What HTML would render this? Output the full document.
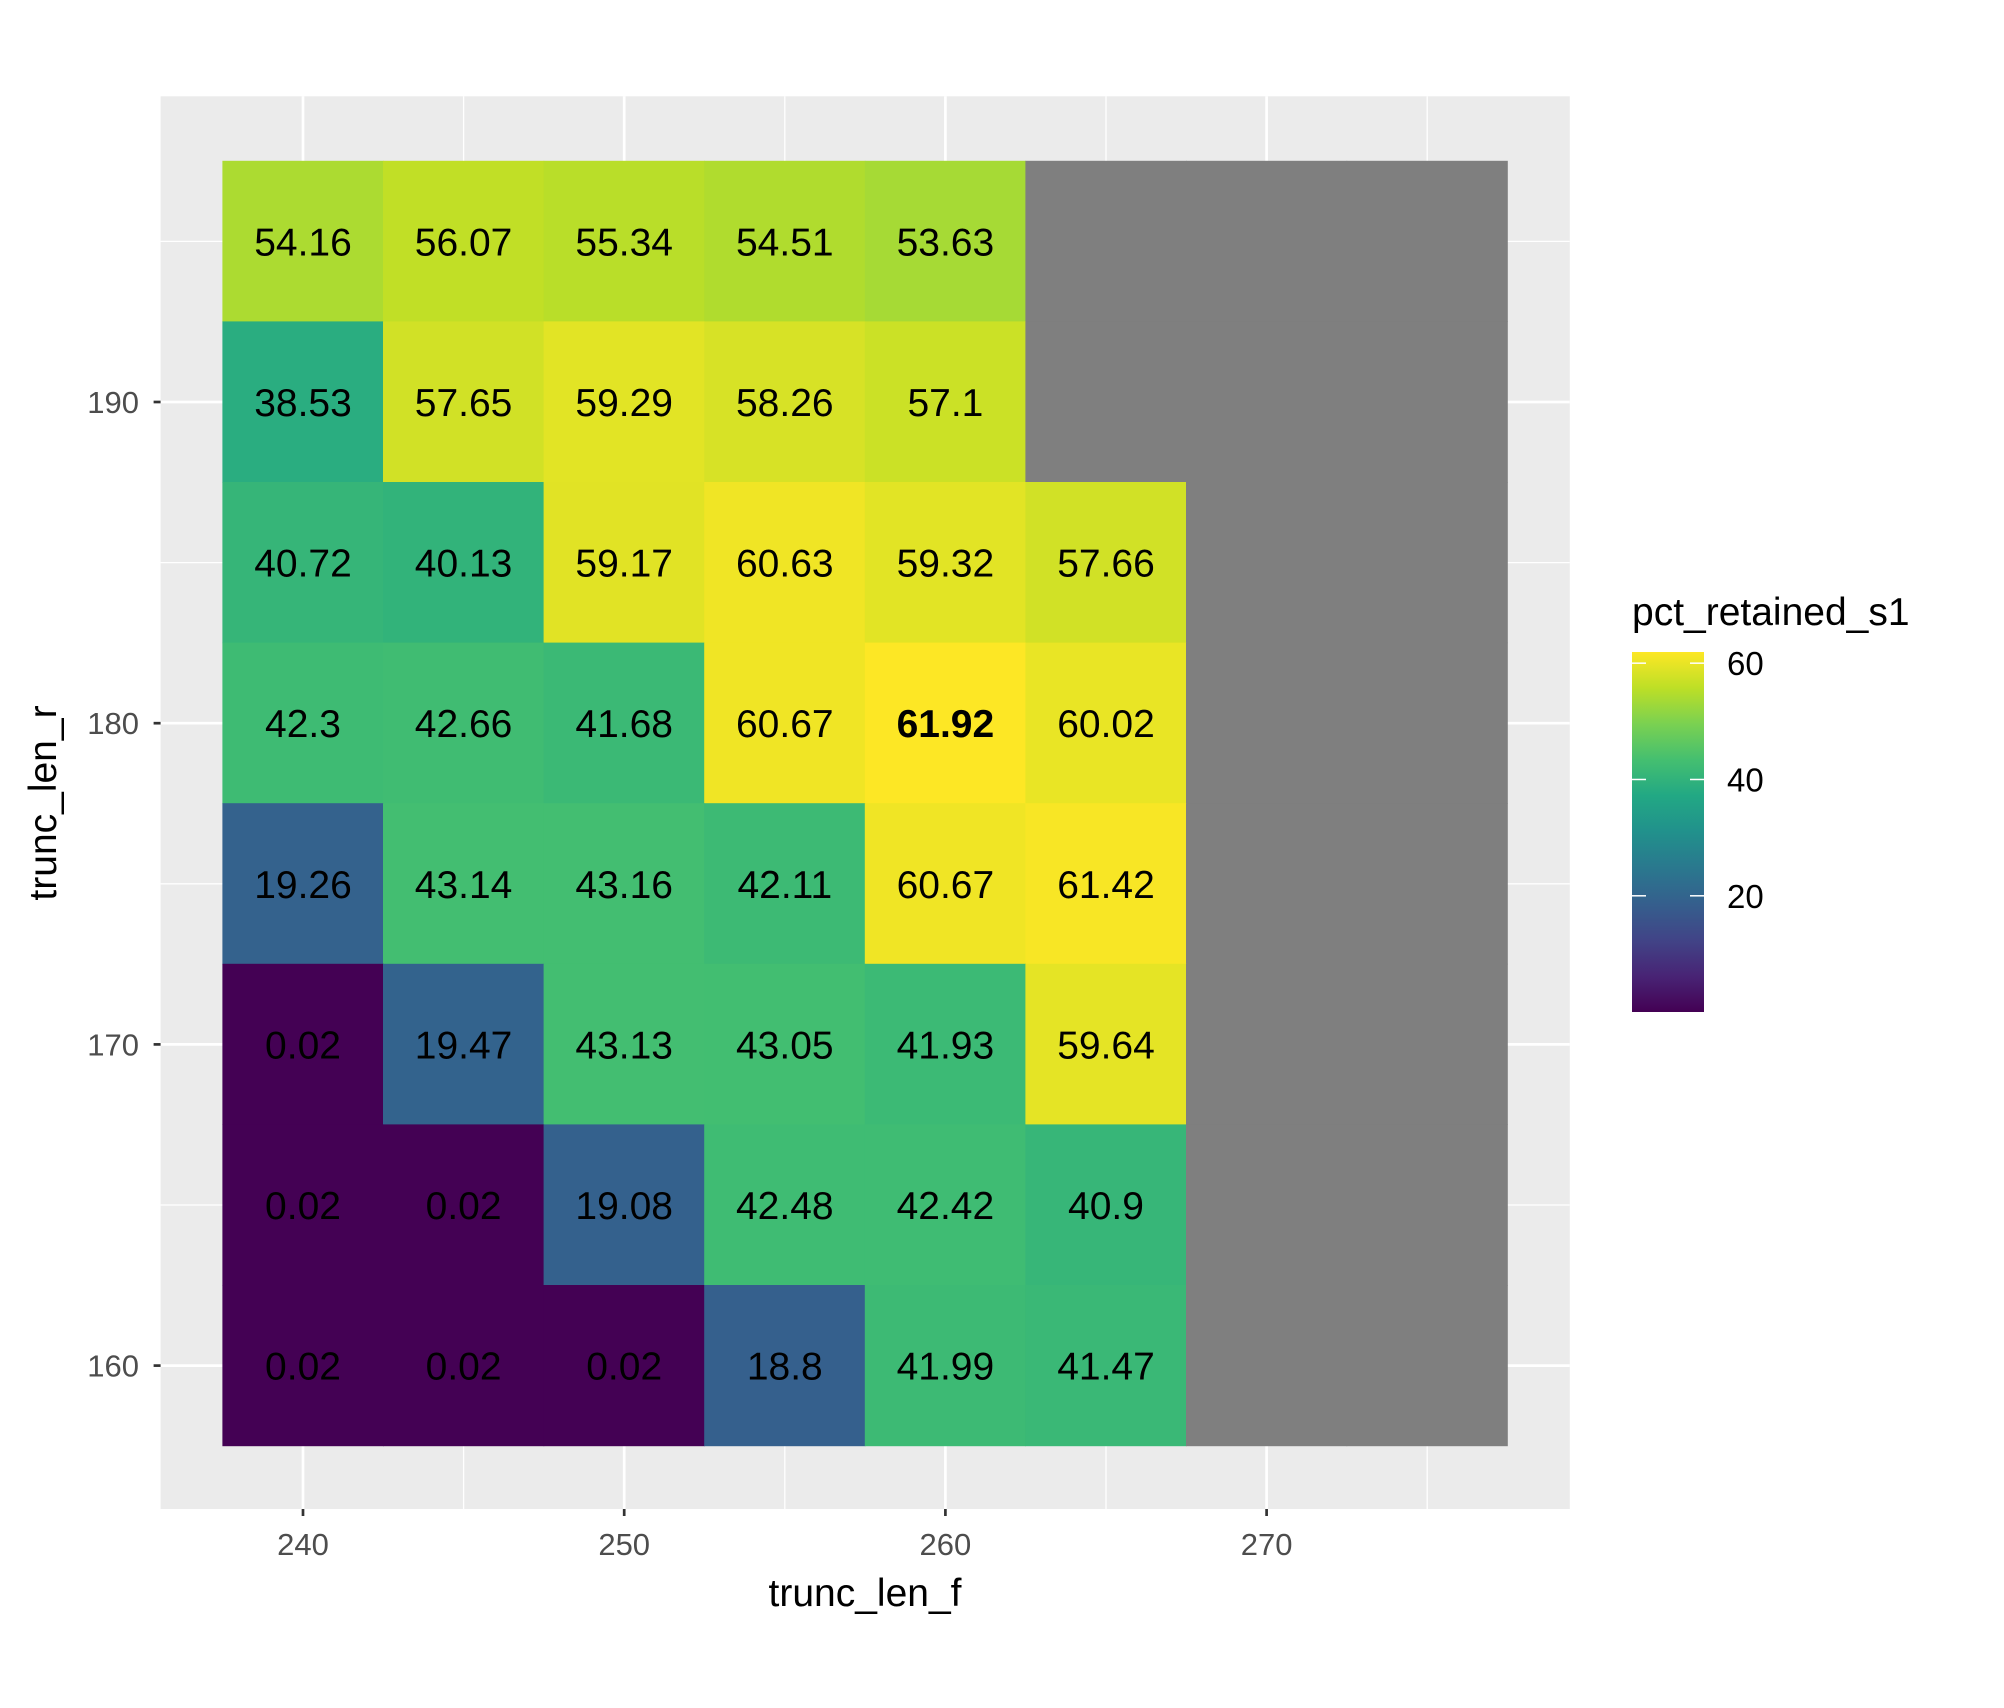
<!DOCTYPE html>
<html><head><meta charset="utf-8"><style>body{margin:0;background:#fff}svg{display:block;font-family:"Liberation Sans",sans-serif}</style></head>
<body>
<svg id="chart" width="2004" height="1708" viewBox="0 0 2004 1708" xmlns="http://www.w3.org/2000/svg">
<defs><linearGradient id="vir" x1="0" y1="1" x2="0" y2="0"></linearGradient></defs>
<rect x="0" y="0" width="2004" height="1708" fill="#fff"/>
<rect x="160.6" y="96.3" width="1409.2" height="1412.7" fill="#ebebeb"/>
<g id="grid"></g>
<g id="tiles"></g>
<g id="labels"></g>
<g id="axes"></g>
<text x="865" y="1606" font-size="39" text-anchor="middle" fill="#000">trunc_len_f</text>
<text transform="translate(56,803) rotate(-90)" font-size="39" text-anchor="middle" fill="#000">trunc_len_r</text>
<g id="legend">
<text x="1632" y="625" font-size="39" fill="#000">pct_retained_s1</text>
<rect x="1632" y="652" width="72" height="360" fill="url(#vir)"/>
</g>
</svg>
<script>
const xCats = [240, 245, 250, 255, 260, 265, 270, 275];
const yCats = [195, 190, 185, 180, 175, 170, 165, 160];
const row195 = [54.16, 56.07, 55.34, 54.51, 53.63, null, null, null];
const row190 = [38.53, 57.65, 59.29, 58.26, 57.1, null, null, null];
const row185 = [40.72, 40.13, 59.17, 60.63, 59.32, 57.66, null, null];
const row180 = [42.3, 42.66, 41.68, 60.67, 61.92, 60.02, null, null];
const row175 = [19.26, 43.14, 43.16, 42.11, 60.67, 61.42, null, null];
const row170 = [0.02, 19.47, 43.13, 43.05, 41.93, 59.64, null, null];
const row165 = [0.02, 0.02, 19.08, 42.48, 42.42, 40.9, null, null];
const row160 = [0.02, 0.02, 0.02, 18.8, 41.99, 41.47, null, null];
const rows = [row195, row190, row185, row180, row175, row170, row165, row160];
const xTicks = [240, 250, 260, 270];
const yTicks = [160, 170, 180, 190];
const legendTicks = [20, 40, 60];

const NS = 'http://www.w3.org/2000/svg';
const X = v => 303 + (v - 240) * 32.12;
const Y = v => 1365.6 - (v - 160) * 32.12;
const stops = ['#440154','#482475','#414487','#355f8d','#2a788e','#21918c','#22a884','#44bf70','#7ad151','#bddf26','#fde725'];
function hex(h){return [1,3,5].map(i=>parseInt(h.substr(i,2),16));}
function vir(t){t=Math.max(0,Math.min(1,t));const s=t*10,i=Math.min(9,Math.floor(s)),f=s-i;const a=hex(stops[i]),b=hex(stops[i+1]);return 'rgb('+a.map((c,k)=>Math.round(c+(b[k]-c)*f)).join(',')+')';}
function mk(tag, attrs, parent){const e=document.createElementNS(NS,tag);for(const k in attrs)e.setAttribute(k,attrs[k]);parent.appendChild(e);return e;}
const all = rows.flat().filter(v=>v!==null);
const vmin = Math.min(...all), vmax = Math.max(...all);

const grad = document.getElementById('vir');
stops.forEach((c,i)=>{mk('stop',{offset:(i*10)+'%','stop-color':c},grad);});

const grid = document.getElementById('grid');
[245,255,265,275].forEach(v=>{const l=mk('line',{x1:X(v),x2:X(v),y1:96.3,y2:1509,stroke:'#fff','stroke-width':1.3},grid);});
[165,175,185,195].forEach(v=>{const l=mk('line',{x1:160.6,x2:1569.8,y1:Y(v),y2:Y(v),stroke:'#fff','stroke-width':1.3},grid);});
xTicks.forEach(v=>{const l=mk('line',{x1:X(v),x2:X(v),y1:96.3,y2:1509,stroke:'#fff','stroke-width':2.7},grid);});
yTicks.forEach(v=>{const l=mk('line',{x1:160.6,x2:1569.8,y1:Y(v),y2:Y(v),stroke:'#fff','stroke-width':2.7},grid);});

const tiles = document.getElementById('tiles'), labels = document.getElementById('labels');
const w = 32.12*5;
rows.forEach((row,ri)=>{row.forEach((v,ci)=>{
  const cx = X(xCats[ci]), cy = Y(yCats[ri]);
  const r = mk('rect',{x:cx-w/2-0.3,y:cy-w/2-0.3,width:w+0.6,height:w+0.6,fill:v===null?'#7f7f7f':vir((v-vmin)/(vmax-vmin))},tiles);
  
  
  if(v!==null){
    const t = mk('text',{x:cx,y:cy+14,'font-size':39,'text-anchor':'middle',fill:'#000','font-weight':v===vmax?'bold':'normal'},labels);
    t.textContent = String(v);
    
    
  }
});});

const axes = document.getElementById('axes');
xTicks.forEach(v=>{
  const l=mk('line',{x1:X(v),x2:X(v),y1:1509,y2:1516,stroke:'#333','stroke-width':2.7},axes);
  
  
  const t=mk('text',{x:X(v),y:1555,'font-size':31,'text-anchor':'middle',fill:'#4d4d4d'},axes);
  t.textContent=v;
  
  
});
yTicks.forEach(v=>{
  const l=mk('line',{x1:153.6,x2:160.6,y1:Y(v),y2:Y(v),stroke:'#333','stroke-width':2.7},axes);
  
  
  const t=mk('text',{x:139,y:Y(v)+11,'font-size':31,'text-anchor':'end',fill:'#4d4d4d'},axes);
  t.textContent=v;
  
  
});

const legend = document.getElementById('legend');
const LY = v => 1012 - (v - vmin)/(vmax - vmin)*360;
legendTicks.forEach(v=>{
  const a=mk('line',{x1:1632,x2:1646,y1:LY(v),y2:LY(v),stroke:'#fff','stroke-width':1.5},legend);
  
  
  const b=mk('line',{x1:1690,x2:1704,y1:LY(v),y2:LY(v),stroke:'#fff','stroke-width':1.5},legend);
  
  
  const t=mk('text',{x:1727,y:LY(v)+12,'font-size':33,fill:'#000'},legend);
  t.textContent=v;
  
  
});
</script>
</body></html>
